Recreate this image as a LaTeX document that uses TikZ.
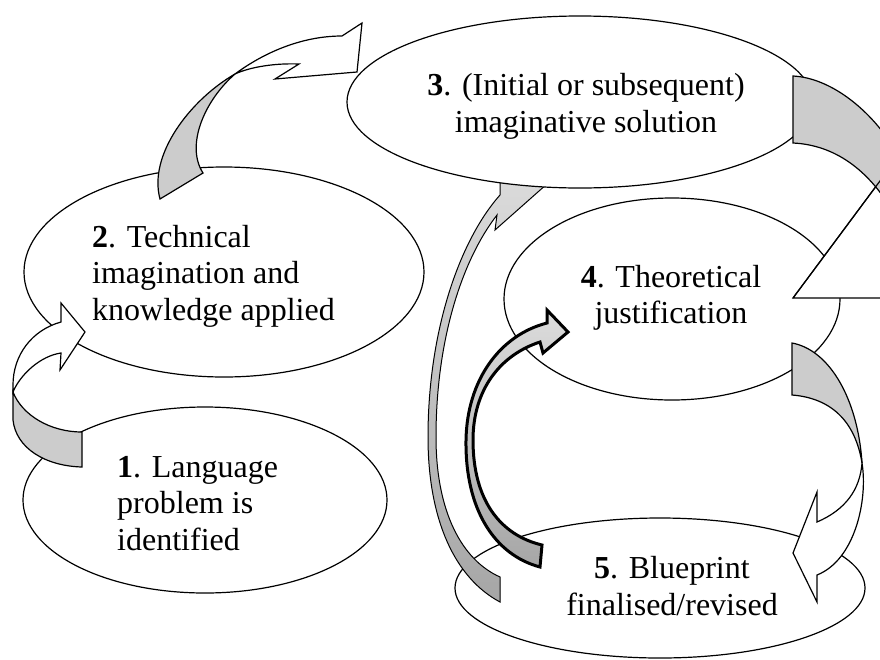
\documentclass[tikz,border=0pt]{standalone}
\usepackage{fontspec}
\setmainfont{Liberation Serif}
\usetikzlibrary{shapes.geometric}
\definecolor{bandgray}{HTML}{CCCCCC}
\definecolor{lightg}{HTML}{DCDCDC}
\definecolor{darkg}{HTML}{A6A6A6}
\begin{document}
\begin{tikzpicture}[x=1pt,y=-1pt,
  ell/.style={ellipse, draw, fill=white, line width=1.2pt, inner sep=0pt},
  lbl/.style={inner sep=0pt, font=\fontsize{32}{36.8}\selectfont},
  band/.style={draw, fill=bandgray, line width=1.2pt, line join=miter},
  headw/.style={draw, fill=white, line width=1.2pt, line join=miter},
]
\clip (0,0) rectangle (880,659);
\fill[white] (0,0) rectangle (880,659);

% lower right ellipses
\node[ell, minimum width=410pt, minimum height=140pt] (e5) at (660,588) {};
\node[ell, minimum width=336pt, minimum height=202pt] (e4) at (672,299) {};

% arrow 5 -> 3 (long, thin outline)
\shadedraw[top color=lightg, bottom color=darkg, line width=1pt, line join=miter]
  (500,602) .. controls (455,578) and (428,520) .. (428,437)
  .. controls (428,330) and (460,240) .. (500,195)
  -- (500,168) -- (565,168) -- (495,230) -- (497,215)
  .. controls (462,260) and (436,340) .. (436,437)
  .. controls (436,512) and (462,560) .. (500,577) -- cycle;

% other ellipses
\node[ell, minimum width=466pt, minimum height=172pt] (e3) at (580,102) {};
\node[ell, minimum width=364pt, minimum height=186pt] (e1) at (205,500) {};
\node[ell, minimum width=400pt, minimum height=210pt] (e2) at (224,272) {};

% arrow 1 -> 2
\path[band] (13,392) .. controls (22,415) and (50,432) .. (82,432)
  -- (82,467) .. controls (45,466) and (16,448) .. (13,420) -- cycle;
\path[headw] (61,322) .. controls (32,330) and (13,355) .. (13,385) -- (13,392)
  .. controls (20,375) and (40,356) .. (61,353) -- (60,370) -- (85,332)
  -- (61,303) -- cycle;

% arrow 2 -> 3
\path[band] (160,199) .. controls (148,155) and (190,100) .. (235,74)
  .. controls (205,100) and (185,145) .. (203,173) -- cycle;
\path[headw] (235,74) .. controls (262,54) and (300,36) .. (342,36)
  -- (362,23) -- (357,72) -- (275,79) -- (299,64)
  .. controls (275,63) and (250,67) .. (235,74) -- cycle;

% arrow 3 -> 4
\path[headw] (793,298) -- (900,154) -- (900,298) -- cycle;
\path[band] (793,76) .. controls (830,78) and (868,108) .. (892,145)
  -- (892,210) .. controls (868,170) and (835,145) .. (793,143) -- cycle;
\draw[line width=1.2pt] (793,298) -- (900,154);

% arrow 4 -> 5
\path[band] (792,343) .. controls (830,350) and (858,400) .. (862,463)
  .. controls (855,420) and (830,398) .. (792,395) -- cycle;
\path[headw] (862,463) .. controls (868,500) and (855,560) .. (817,575)
  -- (817,602) -- (793,553) -- (817,492) -- (817,522)
  .. controls (845,510) and (860,490) .. (862,463) -- cycle;

% arrow 5 -> 4 (thick outline)
\shadedraw[top color=lightg, bottom color=darkg, line width=3pt, line join=miter]
  (540,567) .. controls (495,555) and (465,510) .. (466,440)
  .. controls (467,380) and (500,335) .. (547,323)
  -- (547,310) -- (568,332) -- (543,353) -- (540,342)
  .. controls (500,355) and (473,390) .. (473,440)
  .. controls (473,500) and (500,535) .. (542,545) -- cycle;

% texts
\node[lbl, anchor=base west] (t1a) at (117,477) {\textbf{1}. Language};
\node[lbl, anchor=base west] (t1b) at (117,513) {problem is};
\node[lbl, anchor=base west] (t1c) at (117,550) {identified};
\node[lbl, anchor=base west] (t2a) at (92,247) {\textbf{2}. Technical};
\node[lbl, anchor=base west] (t2b) at (92,283) {imagination and};
\node[lbl, anchor=base west] (t2c) at (92,320) {knowledge applied};
\node[lbl, anchor=base] (t3a) at (586,95) {\textbf{3}. (Initial or subsequent)};
\node[lbl, anchor=base] (t3b) at (586,132) {imaginative solution};
\node[lbl, anchor=base] (t4a) at (671,287) {\textbf{4}. Theoretical};
\node[lbl, anchor=base] (t4b) at (671,323) {justification};
\node[lbl, anchor=base] (t5a) at (672,578) {\textbf{5}. Blueprint};
\node[lbl, anchor=base] (t5b) at (672,615) {finalised/revised};
\end{tikzpicture}
\end{document}
